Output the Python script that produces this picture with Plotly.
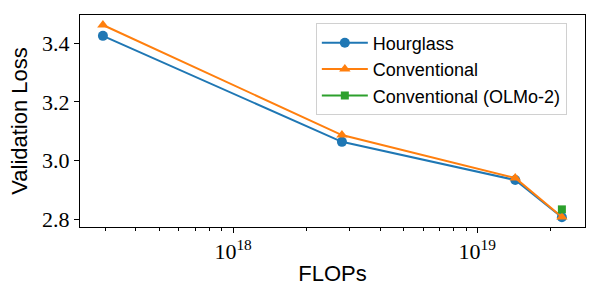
import plotly.graph_objects as go

flops = [2.93e17, 2.79e18, 1.43e19, 2.22e19]
hourglass = [3.425, 3.064, 2.934, 2.807]
conventional = [3.462, 3.087, 2.941, 2.808]
olmo_flops = [2.22e19]
olmo = [2.834]

y_ticks = [2.8, 3.0, 3.2, 3.4]
y_tick_text = ["2.8", "3.0", "3.2", "3.4"]
x_major = [1e18, 1e19]
x_major_text = ["10<sup>18</sup>", "10<sup>19</sup>"]
x_minor = [3e17, 4e17, 5e17, 6e17, 7e17, 8e17, 9e17,
           2e18, 3e18, 4e18, 5e18, 6e18, 7e18, 8e18, 9e18,
           2e19]

BLUE, ORANGE, GREEN = "#1f77b4", "#ff7f0e", "#2ca02c"
SERIF = "Liberation Serif"
SANS = "Liberation Sans"

fig = go.Figure()
fig.add_trace(go.Scatter(x=flops, y=hourglass, name="Hourglass", mode="lines+markers",
                         legendgroup="a",
                         line=dict(color=BLUE, width=2),
                         marker=dict(symbol="circle", size=10, color=BLUE)))
fig.add_trace(go.Scatter(x=flops, y=conventional, name="Conventional", mode="lines+markers",
                         legendgroup="b",
                         line=dict(color=ORANGE, width=2),
                         marker=dict(symbol="triangle-up", size=10, color=ORANGE)))
fig.add_trace(go.Scatter(x=olmo_flops, y=olmo, name="Conventional (OLMo-2)", mode="lines+markers",
                         legendgroup="c",
                         line=dict(color=GREEN, width=2),
                         marker=dict(symbol="square", size=8, color=GREEN)))

fig.update_layout(
    width=600, height=300,
    font=dict(family=SERIF, size=22, color="black"),
    margin=dict(l=80, r=15, t=15, b=73),
    plot_bgcolor="white", paper_bgcolor="white",
    showlegend=True,
    legend=dict(x=0.467, y=0.96, xanchor="left", yanchor="top",
                bgcolor="white", bordercolor="#d0d0d0", borderwidth=1,
                font=dict(family=SANS, size=18, color="black"),
                tracegroupgap=0, itemwidth=46),
    xaxis=dict(
        type="log", range=[17.373, 19.441], automargin=False,
        tickmode="array", tickvals=x_major, ticktext=x_major_text,
        ticks="outside", ticklen=5, tickwidth=1, tickcolor="black",
        minor=dict(tickmode="array", tickvals=x_minor, ticks="outside",
                   ticklen=3, tickwidth=0.8, tickcolor="black", showgrid=False),
        showline=True, linecolor="black", linewidth=1, mirror=True,
        showgrid=False, zeroline=False,
        tickfont=dict(family=SERIF, size=22, color="black"),
        title=dict(text="FLOPs", font=dict(family=SANS, size=22, color="black"), standoff=2),
    ),
    yaxis=dict(
        range=[2.774, 3.496], automargin=False,
        tickmode="array", tickvals=y_ticks, ticktext=y_tick_text,
        ticks="outside", ticklen=5, tickwidth=1, tickcolor="black",
        showline=True, linecolor="black", linewidth=1, mirror=True,
        showgrid=False, zeroline=False,
        tickfont=dict(family=SERIF, size=22, color="black"),
        title=dict(text="Validation Loss", font=dict(family=SANS, size=22, color="black"), standoff=8),
    ),
)

fig.write_html("out.html", config={"displayModeBar": False},
               post_script="document.body.style.margin='0';document.body.style.padding='0';")
